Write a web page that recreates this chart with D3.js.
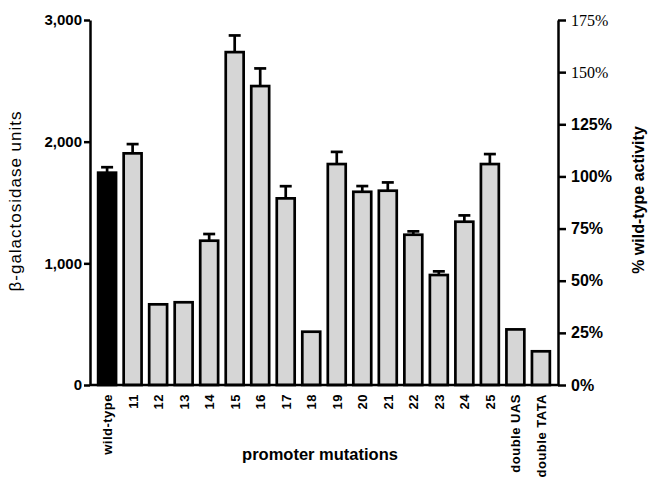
<!DOCTYPE html>
<html>
<head>
<meta charset="utf-8">
<script src="https://cdn.jsdelivr.net/npm/d3@7"></script>
<style>
  body { margin: 0; background: #fff; }
  text { font-family: "Liberation Sans", Arial, sans-serif; }
</style>
</head>
<body>
<div id="chart"></div>
<script>
// data
var mutations = ["wild-type", "11", "12", "13", "14", "15", "16", "17", "18", "19",
                 "20", "21", "22", "23", "24", "25", "double UAS", "double TATA"];
var units = [1745, 1904, 663, 680, 1186, 2736, 2457, 1534, 438, 1816,
             1588, 1597, 1235, 904, 1342, 1816, 457, 277];
var errors = [45, 76, 0, 0, 55, 137, 145, 100, 0, 100,
              47, 68, 28, 30, 52, 82, 0, 0];
var unitTicks = [0, 1000, 2000, 3000];
var pctTicks = [0, 25, 50, 75, 100, 125, 150, 175];

var w = 648, h = 491;
var svg = d3.select("#chart")
  .append("svg")
  .attr("width", w)
  .attr("height", h);

var mLeft = 90, mRight = 558, mTop = 20, mBottom = 385;

var x = d3.scaleBand().domain(mutations).range([mLeft, mRight])
  .paddingInner(0.22).paddingOuter(0.28);
var y = d3.scaleLinear().domain([0, 3000]).range([mBottom, mTop]);
var yPct = d3.scaleLinear().domain([0, 175]).range([mBottom, mTop]);

var data = mutations.map(function(m, i) {
  return {name: m, v: units[i], e: errors[i]};
});

// bars
svg.selectAll("rect.bar")
  .data(data)
  .enter().append("rect")
  .attr("class", "bar")
  .attr("x", function(d) { return x(d.name) + 1; })
  .attr("y", function(d) { return y(d.v); })
  .attr("width", x.bandwidth() - 2)
  .attr("height", function(d) { return y(0) - y(d.v); })
  .attr("fill", function(d, i) { return i == 0 ? "#000" : "#d6d6d6"; })
  .attr("stroke", "#000")
  .attr("stroke-width", 2.7);

// error bars
var eb = svg.selectAll("g.err")
  .data(data.filter(function(d) { return d.e > 0; }))
  .enter().append("g")
  .attr("class", "err");
eb.append("line")
  .attr("x1", function(d) { return x(d.name) + x.bandwidth() / 2; })
  .attr("x2", function(d) { return x(d.name) + x.bandwidth() / 2; })
  .attr("y1", function(d) { return y(d.v); })
  .attr("y2", function(d) { return y(d.v + d.e); })
  .attr("stroke", "#000").attr("stroke-width", 2.7);
eb.append("line")
  .attr("x1", function(d) { return x(d.name) + x.bandwidth() / 2 - 6; })
  .attr("x2", function(d) { return x(d.name) + x.bandwidth() / 2 + 6; })
  .attr("y1", function(d) { return y(d.v + d.e); })
  .attr("y2", function(d) { return y(d.v + d.e); })
  .attr("stroke", "#000").attr("stroke-width", 2.7);

// left axis
var yAxis = svg.append("g")
  .attr("transform", "translate(" + mLeft + ",0)")
  .call(d3.axisLeft(y).tickValues(unitTicks).tickFormat(d3.format(",")).tickSize(6).tickSizeOuter(0));
yAxis.select(".domain").attr("stroke-width", 2.5);
yAxis.selectAll(".tick line").attr("stroke-width", 2.5);
yAxis.selectAll(".tick text")
  .attr("x", -8)
  .style("font-size", "15px")
  .style("font-weight", "bold");

// right axis
var pAxis = svg.append("g")
  .attr("transform", "translate(" + mRight + ",0)")
  .call(d3.axisRight(yPct).tickValues(pctTicks).tickFormat(function(d) { return d + "%"; })
    .tickSize(8).tickSizeOuter(0));
pAxis.select(".domain").attr("stroke-width", 2.5);
pAxis.selectAll(".tick line").attr("stroke-width", 2.5);
pAxis.selectAll(".tick text")
  .attr("x", 13)
  .style("font-size", "16px")
  .style("font-weight", function(d) { return d >= 150 ? "normal" : "bold"; })
  .style("font-family", function(d) { return d >= 150 ? "'Liberation Serif', serif" : null; });

// baseline
svg.append("line")
  .attr("x1", mLeft).attr("x2", mRight)
  .attr("y1", y(0)).attr("y2", y(0))
  .attr("stroke", "#000").attr("stroke-width", 2.5);

// x labels
svg.selectAll("text.xlab")
  .data(mutations)
  .enter().append("text")
  .attr("class", "xlab")
  .attr("transform", function(d) {
    return "translate(" + (x(d) + x.bandwidth() / 2 + 5) + "," + (mBottom + 9) + ") rotate(-90)";
  })
  .attr("text-anchor", "end")
  .style("font-size", "13px")
  .style("letter-spacing", "0.5px")
  .style("font-weight", "bold")
  .text(function(d) { return d; });

// titles
svg.append("text")
  .attr("transform", "translate(21,201) rotate(-90)")
  .attr("text-anchor", "middle")
  .style("font-size", "17px")
  .style("letter-spacing", "1px")
  .text("β-galactosidase units");

svg.append("text")
  .attr("transform", "translate(644,200) rotate(-90)")
  .attr("text-anchor", "middle")
  .style("font-size", "16px")
  .style("font-weight", "bold")
  .text("% wild-type activity");

svg.append("text")
  .attr("x", 320).attr("y", 460)
  .attr("text-anchor", "middle")
  .style("font-size", "16.5px")
  .style("font-weight", "bold")
  .text("promoter mutations");
</script>
</body>
</html>
